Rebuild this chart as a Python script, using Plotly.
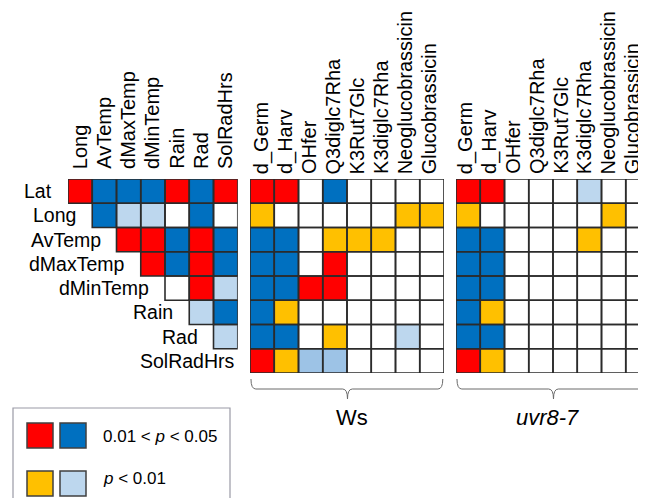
import numpy as np
import plotly.graph_objects as go

# ---------------- data ----------------
climate_cols = ["Long", "AvTemp", "dMaxTemp", "dMinTemp", "Rain", "Rad", "SolRadHrs"]
row_labels = ["Lat", "Long", "AvTemp", "dMaxTemp", "dMinTemp", "Rain", "Rad", "SolRadHrs"]
trait_cols = ["d_Germ", "d_Harv", "OHfer", "Q3diglc7Rha", "K3Rut7Glc",
              "K3diglc7Rha", "Neoglucobrassicin", "Glucobrassicin"]
panel_names = ["Ws", "<i>uvr8-7</i>"]

# codes: 0 = n.s., 1 = red, 2 = blue (0.01<p<0.05), 3 = orange, 4 = light blue (p<0.01), 5 = light blue (darker shade)
N = None
climate_codes = [
    [1, 2, 2, 2, 1, 2, 1],
    [N, 2, 4, 4, 0, 2, 0],
    [N, N, 1, 1, 2, 1, 2],
    [N, N, N, 1, 2, 1, 2],
    [N, N, N, N, 0, 1, 4],
    [N, N, N, N, N, 4, 2],
    [N, N, N, N, N, N, 4],
    [N, N, N, N, N, N, N],
]
ws_codes = [
    [1, 1, 0, 2, 0, 0, 0, 0],
    [3, 0, 0, 0, 0, 0, 3, 3],
    [2, 2, 0, 3, 3, 3, 0, 0],
    [2, 2, 0, 1, 0, 0, 0, 0],
    [2, 2, 1, 1, 0, 0, 0, 0],
    [2, 3, 0, 0, 0, 0, 0, 0],
    [2, 2, 0, 3, 0, 0, 4, 0],
    [1, 3, 5, 5, 0, 0, 0, 0],
]
uvr_codes = [
    [1, 1, 0, 0, 0, 4, 0, 0],
    [3, 0, 0, 0, 0, 0, 3, 0],
    [2, 2, 0, 0, 0, 3, 0, 0],
    [2, 2, 0, 0, 0, 0, 0, 0],
    [2, 2, 0, 0, 0, 0, 0, 0],
    [2, 3, 0, 0, 0, 0, 0, 0],
    [2, 2, 0, 0, 0, 0, 0, 0],
    [1, 3, 0, 0, 0, 0, 0, 0],
]
code_colors = ["#FFFFFF", "#FF0000", "#0070C0", "#FFC000", "#BDD7EE", "#9DC3E6"]
legend_rows = [
    (["#FF0000", "#0070C0"], "0.01 &lt; <i>p</i> &lt; 0.05"),
    (["#FFC000", "#BDD7EE"], "<i>p</i> &lt; 0.01"),
]

# ---------------- layout helpers ----------------
VIEW_W, VIEW_H = 646, 498
OFF = 8  # default page margin of the html body
W, H = VIEW_W - OFF, VIEW_H - OFF
FONT = "Arial, 'Liberation Sans', sans-serif"


def fx(p):
    return (p - OFF) / W


def fy(p):
    return 1 - (p - OFF) / H


CELL = 24.25
TOP = 179
NROWS = len(row_labels)

ncol = len(code_colors)
colorscale = []
for k, c in enumerate(code_colors):
    colorscale += [[k / ncol, c], [(k + 1) / ncol, c]]

panels = [
    dict(cols=climate_cols, codes=climate_codes, left=68, ax="x", lab_y=171, lab_dx=(-0.5, -0.1)),
    dict(cols=trait_cols, codes=ws_codes, left=250, ax="x2", lab_y=176, lab_dx=(-1.0, -0.3)),
    dict(cols=trait_cols, codes=uvr_codes, left=456, ax="x3", lab_y=176, lab_dx=(-3.0, -0.45)),
]

fig = go.Figure()
shapes = []
annotations = []
layout_axes = {}

for k, p in enumerate(panels):
    ncols = len(p["cols"])
    z = np.array([[np.nan if v is None else v for v in row] for row in p["codes"]], dtype=float)
    right_px = p["left"] + ncols * CELL
    vis_right = min(right_px, VIEW_W)
    xr = [-0.5, -0.5 + (vis_right - p["left"]) / CELL]
    fig.add_trace(go.Heatmap(
        z=z, x=list(range(ncols)), y=list(range(NROWS)),
        zmin=-0.5, zmax=ncol - 0.5, colorscale=colorscale, showscale=False,
        hoverinfo="skip", xaxis=p["ax"], yaxis="y",
    ))
    axname = "xaxis" if k == 0 else "xaxis%d" % (k + 1)
    layout_axes[axname] = dict(domain=[fx(p["left"]), min(1.0, fx(vis_right))], range=xr,
                               visible=False, showgrid=False, zeroline=False,
                               anchor="y", fixedrange=True)
    # cell outlines
    for i, row in enumerate(p["codes"]):
        for j, v in enumerate(row):
            if v is None:
                continue
            shapes.append(dict(type="rect", xref=p["ax"], yref="y",
                               x0=j - 0.5, x1=j + 0.5, y0=i - 0.5, y1=i + 0.5,
                               line=dict(color="#2b2b2b", width=1.6), layer="above"))
    # column labels
    a0, a1 = p["lab_dx"]
    for j, name in enumerate(p["cols"]):
        annotations.append(dict(text=name, xref=p["ax"], x=j, xshift=a0 + a1 * j,
                                yref="paper", y=fy(p["lab_y"]),
                                xanchor="center", yanchor="bottom", textangle=-90,
                                showarrow=False, font=dict(family=FONT, size=20, color="black")))
    # bracket + name
    if k > 0:
        ytop, ymid, ybot = fy(379), fy(389), fy(399)
        x0, x1, xc, r = -0.46, ncols - 0.55, (ncols - 1) / 2 + 0.02, 0.2
        path = (f"M {x0},{ytop} Q {x0},{ymid} {x0 + r},{ymid} L {xc - r},{ymid} "
                f"Q {xc},{ymid} {xc},{ybot} Q {xc},{ymid} {xc + r},{ymid} "
                f"L {x1 - r},{ymid} Q {x1},{ymid} {x1},{ytop}")
        shapes.append(dict(type="path", xref=p["ax"], yref="paper", path=path,
                           line=dict(color="#6b6b6b", width=1)))
        annotations.append(dict(text=panel_names[k - 1], xref=p["ax"], x=xc + (0.2 if k == 1 else -0.25),
                                yref="paper", y=fy(417), xanchor="center", yanchor="middle",
                                showarrow=False, font=dict(family=FONT, size=22, color="black")))

# row labels (left panel, placed just before each row's first cell)
for i, name in enumerate(row_labels):
    if i < len(climate_cols):
        xpos, shift = i - 0.5, -14
    else:
        xpos, shift = len(climate_cols) - 0.5, -1
    annotations.append(dict(text=name, xref="x", x=xpos, xshift=shift, yref="y", y=i,
                            xanchor="right", yanchor="middle", showarrow=False,
                            font=dict(family=FONT, size=19.5, color="black")))

# legend box
shapes.append(dict(type="rect", xref="paper", yref="paper", x0=fx(13), x1=fx(230),
                   y0=fy(520), y1=fy(408), line=dict(color="#9a9aa6", width=1.2),
                   fillcolor="white", layer="below"))
legend_text_y = [436, 478]
for r, (cols, label) in enumerate(legend_rows):
    yt = 423 + r * 48
    for c, col in enumerate(cols):
        xl = 27 + c * 33
        shapes.append(dict(type="rect", xref="paper", yref="paper",
                           x0=fx(xl), x1=fx(xl + 26), y0=fy(yt + 25), y1=fy(yt),
                           fillcolor=col, line=dict(color="#404040", width=1.5)))
    annotations.append(dict(text=label, xref="paper", x=fx(101), yref="paper", y=fy(legend_text_y[r]),
                            xanchor="left", yanchor="middle", showarrow=False,
                            font=dict(family=FONT, size=17, color="black")))

fig.update_layout(
    width=W, height=H, margin=dict(l=0, r=0, t=0, b=0),
    paper_bgcolor="white", plot_bgcolor="rgba(0,0,0,0)",
    showlegend=False,
    yaxis=dict(domain=[fy(TOP + NROWS * CELL), fy(TOP)], range=[NROWS - 0.5, -0.5],
               visible=False, showgrid=False, zeroline=False, fixedrange=True),
    shapes=shapes, annotations=annotations,
    **layout_axes,
)
fig.write_html("out.html")
